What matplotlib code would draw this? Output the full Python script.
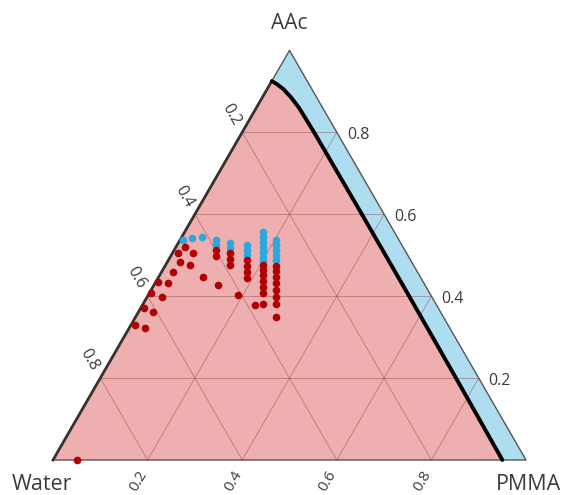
import numpy as np
import matplotlib.pyplot as plt

plt.rcParams['font.family'] = ['Open Sans', 'DejaVu Sans']

# compositions: AAc and PMMA fractions (water = 1 - AAc - PMMA)
blue_aac = [0.557, 0.544, 0.532, 0.520, 0.508, 0.496, 0.486,
            0.537, 0.525, 0.513, 0.500, 0.488,
            0.525, 0.513, 0.500,
            0.530, 0.518,
            0.537, 0.525,
            0.544, 0.542, 0.537]
blue_pmma = [0.166, 0.172, 0.178, 0.184, 0.190, 0.196, 0.201,
             0.203, 0.209, 0.215, 0.222, 0.228,
             0.148, 0.154, 0.160,
             0.109, 0.115,
             0.077, 0.083,
             0.043, 0.023, 0.007]

red_aac = [0.476, 0.464, 0.452, 0.437, 0.422, 0.408, 0.381,
           0.474, 0.461, 0.447, 0.432, 0.415, 0.398, 0.381, 0.349,
           0.488, 0.474, 0.459, 0.444,
           0.505, 0.491, 0.476,
           0.513, 0.498,
           0.447, 0.427, 0.403, 0.378,
           0.520, 0.505, 0.505, 0.483, 0.476, 0.459, 0.432, 0.398, 0.361, 0.322,
           0.435, 0.408, 0.371, 0.330,
           0.0]
red_pmma = [0.206, 0.212, 0.218, 0.226, 0.233, 0.240, 0.254,
            0.234, 0.241, 0.248, 0.256, 0.264, 0.272, 0.281, 0.297,
            0.166, 0.173, 0.181, 0.188,
            0.122, 0.129, 0.136,
            0.088, 0.096,
            0.094, 0.135, 0.190, 0.238,
            0.019, 0.012, 0.044, 0.027, 0.052, 0.024, 0.027, 0.031, 0.031, 0.034,
            0.004, 0.004, 0.006, 0.008,
            0.051]

# phase boundary (black curve)
bnd_aac = [0.925, 0.918, 0.905, 0.885, 0.86, 0.80, 0.60, 0.40, 0.20, 0.0]
bnd_water = [0.075, 0.068, 0.060, 0.054, 0.050, 0.048, 0.047, 0.047, 0.048, 0.050]

ticks = [0.2, 0.4, 0.6, 0.8]
tick_labels = ['0.2', '0.4', '0.6', '0.8']

H = np.sqrt(3) / 2
PX = 1 / 473.0


def to_xy(aac, pmma):
    aac = np.asarray(aac, dtype=float)
    pmma = np.asarray(pmma, dtype=float)
    return pmma + aac / 2, aac * H


fig = plt.figure(figsize=(5.7, 4.95), dpi=100)
ax = fig.add_axes([0, 0, 1, 1])
ax.set_xlim(-53 * PX, 517 * PX)
ax.set_ylim(-35 * PX, 460 * PX)
ax.axis('off')

# whole triangle light blue
ax.fill([0, 1, 0.5], [0, 0, H], color='#AEDDF0', lw=0, zorder=1)

# pink region: left edge up to the curve, then along the curve down to the base
b_aac = np.array(bnd_aac)
b_pmma = 1 - b_aac - np.array(bnd_water)
px, py = to_xy(np.concatenate([[0], b_aac]), np.concatenate([[0], b_pmma]))
ax.fill(px, py, color='#EDAFAF', lw=0, zorder=1.5)

# grid
for v in ticks:
    x1, y1 = to_xy([v, v], [0, 1 - v])
    ax.plot(x1, y1, color='#8b3030', lw=0.6, alpha=0.45, zorder=2)
    x2, y2 = to_xy([0, 1 - v], [v, v])
    ax.plot(x2, y2, color='#8b3030', lw=0.6, alpha=0.45, zorder=2)
    x3, y3 = to_xy([0, 1 - v], [1 - v, 0])
    ax.plot(x3, y3, color='#8b3030', lw=0.6, alpha=0.45, zorder=2)

# outline
ax.plot([0, 1, 0.5, 0], [0, 0, H, 0], color='#555555', lw=1.0, zorder=3)
lx, ly = to_xy([0, bnd_aac[0]], [0, 0])
ax.plot(lx, ly, color='#3a3030', lw=2.0, zorder=3)
cx, cy = to_xy(b_aac, b_pmma)
ax.plot(cx, cy, color='black', lw=2.8, solid_capstyle='round', zorder=3)

# points
bx, by = to_xy(blue_aac, blue_pmma)
ax.plot(bx, by, 'o', color='#2AA8E0', ms=5.5, mew=0, zorder=4)
rx, ry = to_xy(red_aac, red_pmma)
ax.plot(rx, ry, 'o', color='#B00000', ms=5.5, mew=0, zorder=5)

tc = '#3c3c3c'
# AAc axis (right)
for v, lab in zip(ticks, tick_labels):
    x, y = to_xy(v, 1 - v)
    ax.text(x + 10 * PX, y - 3 * PX, lab, ha='left', va='center', fontsize=11.5, color=tc)
# Water axis (left)
for v, lab in zip(ticks, tick_labels):
    x, y = to_xy(1 - v, 0)
    ax.text(x - 11 * PX, y + 18 * PX, lab, ha='center', va='center', rotation=-60,
            fontsize=11.5, color=tc)
# PMMA axis (bottom)
for v, lab in zip(ticks, tick_labels):
    x, y = to_xy(0, v)
    ax.text(x - 9 * PX, y - 21 * PX, lab, ha='center', va='center', rotation=60,
            fontsize=11, color=tc)

ax.text(0.5, 437 * PX, 'AAc', ha='center', va='center', fontsize=15, color=tc)
ax.text(-11 * PX, -24 * PX, 'Water', ha='center', va='center', fontsize=15.5, color=tc)
ax.text(475 * PX, -24 * PX, 'PMMA', ha='center', va='center', fontsize=15.5, color=tc)

fig.savefig('out.png', dpi=100)
